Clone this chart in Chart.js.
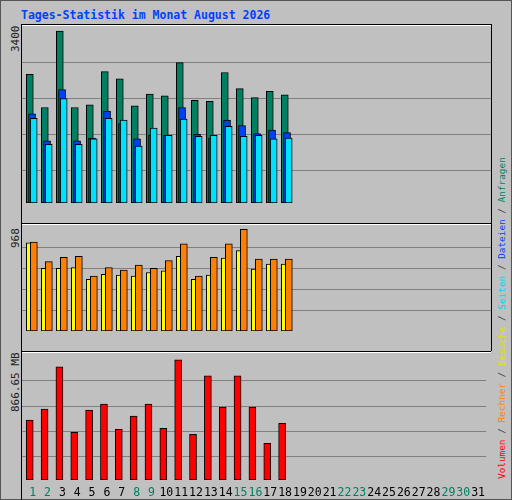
<!DOCTYPE html>
<html>
<head>
<meta charset="utf-8">
<script src="https://cdn.jsdelivr.net/npm/chart.js@4/dist/chart.umd.min.js"></script>
<style>
  body { margin: 0; background: #c0c0c0; }
  #frame { position: relative; width: 510px; height: 498px; background: #c0c0c0; border: 1px solid #555; }
  .panel { position: absolute; left: 20px; width: 469px; border-top: 1px solid #000; border-left: 1px solid #000; border-right: 1px solid #000; }
  .panel::after { content: ''; position: absolute; left: 0; right: 0; top: 0; height: 1px; background: #fff; }
  canvas { display: block; }
  #title { position: absolute; left: 20px; top: 7px; font: bold 11.5px "DejaVu Sans Mono", monospace; color: #0040ff; }
  .ylab { position: absolute; font: 11px "DejaVu Sans Mono", monospace; color: #222; transform-origin: left top; transform: rotate(-90deg); white-space: nowrap; }
  #legend { position: absolute; left: 495px; top: 478px; font: 9.4px "DejaVu Sans Mono", monospace; color: #444; transform-origin: left top; transform: rotate(-90deg); white-space: nowrap; }
</style>
</head>
<body>
<div id="frame">
  <div id="title">Tages-Statistik im Monat August 2026</div>
  <div class="panel" style="top:23px;height:198px"><canvas id="c1" width="469" height="198"></canvas></div>
  <div class="panel" style="top:222px;height:127px"><canvas id="c2" width="469" height="127"></canvas></div>
  <div class="panel" style="top:350px;height:148px;border-right:none"><canvas id="c3" width="469" height="148"></canvas></div>
  <div class="ylab" style="left:8px;top:51px">3400</div>
  <div class="ylab" style="left:8px;top:247px">968</div>
  <div class="ylab" style="left:8px;top:411px">866.65 MB</div>
  <div id="legend"><span style="color:#ff0000">Volumen</span> / <span style="color:#ff8000">Rechner</span> / <span style="color:#e0e000">Besuche</span> / <span style="color:#00d0f0">Seiten</span> / <span style="color:#0040ff">Dateien</span> / <span style="color:#008060">Anfragen</span></div>
</div>
<script>
const days = Array.from({ length: 31 }, (_, i) => i + 1);
const weekendDays = [1, 2, 8, 9, 15, 16, 22, 23, 29, 30];

const anfragen = [2546, 1888, 3400, 1888, 1942, 2599, 2457, 1924, 2155, 2119, 2776, 2031, 2013, 2581, 2261, 2084, 2208, 2137];
const dateien  = [1764, 1231, 2244, 1231, 1285, 1817, 1569, 1267, 1338, 1338, 1888, 1356, 1285, 1640, 1533, 1373, 1444, 1391];
const seiten   = [1675, 1160, 2066, 1160, 1267, 1675, 1640, 1125, 1480, 1338, 1658, 1320, 1338, 1516, 1320, 1338, 1267, 1285];
const besuche  = [839, 597, 597, 605, 492, 540, 532, 524, 557, 573, 710, 492, 532, 694, 766, 589, 637, 637];
const rechner  = [847, 661, 702, 710, 524, 605, 581, 629, 597, 670, 831, 524, 702, 831, 968, 686, 686, 686];
const volumen  = [431, 511, 816, 344, 504, 547, 366, 460, 547, 373, 866.65, 329, 750, 525, 750, 525, 264, 409];

// grid line values per panel
const grid1 = [639, 1350, 2060, 2771];
const grid2 = [194, 395, 597, 799];
const grid3 = [169, 351, 533, 714];

const xMin = 0.48, xMax = 31.75;

function series(values, shift, color, order) {
  return {
    data: values.map((v, i) => ({ x: days[i] + shift, y: v })),
    backgroundColor: color,
    borderColor: '#000',
    borderWidth: 1,
    borderSkipped: false,
    barThickness: 7,
    grouped: false,
    order: order
  };
}

function makeChart(id, datasets, yMax, gridVals, showDays) {
  return new Chart(document.getElementById(id), {
    type: 'bar',
    data: { datasets: datasets },
    options: {
      responsive: false,
      animation: false,
      devicePixelRatio: 1,
      layout: { padding: { top: 2, left: 0, right: 0, bottom: 0 } },
      plugins: { legend: { display: false }, tooltip: { enabled: false } },
      scales: {
        x: {
          type: 'linear', min: xMin, max: xMax, offset: false,
          grid: { display: false, drawTicks: false },
          border: { display: false },
          display: showDays,
          afterBuildTicks: s => { s.ticks = days.map(d => ({ value: d + 0.2 })); },
          afterFit: s => { s.height = 20; },
          ticks: {
            autoSkip: false, maxRotation: 0, padding: 6,
            font: { family: 'DejaVu Sans Mono', size: 11.5 },
            color: c => weekendDays.includes(Math.round(c.tick.value - 0.2)) ? '#008060' : '#000',
            callback: v => String(Math.round(v - 0.2))
          }
        },
        y: {
          min: 0, max: yMax,
          afterBuildTicks: s => { s.ticks = gridVals.map(v => ({ value: v })); },
          afterFit: s => { s.width = 0; },
          ticks: { display: false },
          grid: { color: '#808080', lineWidth: 1, drawTicks: false },
          border: { display: false }
        }
      }
    }
  });
}

makeChart('c1', [
  series(anfragen, 0, '#008060', 3),
  series(dateien, 0.15, '#0040ff', 2),
  series(seiten, 0.26, '#00e0ff', 1)
], 3481, grid1, false);

makeChart('c2', [
  series(besuche, 0, '#ffff00', 2),
  series(rechner, 0.27, '#ff8000', 1)
], 1000, grid2, false);

makeChart('c3', [
  series(volumen, 0, '#ff0000', 1)
], 908, grid3, true);
</script>
</body>
</html>
